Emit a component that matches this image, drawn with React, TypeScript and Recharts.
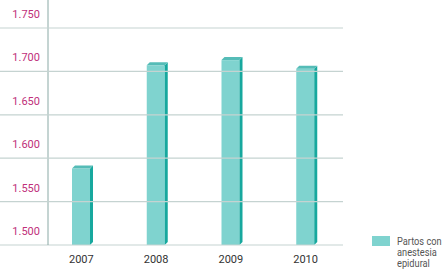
import { BarChart, Bar, XAxis, YAxis } from 'recharts'

const years = ['2007', '2008', '2009', '2010']
const partosEpidural = [1588, 1707, 1713, 1703]
const yTicks = [1500, 1550, 1600, 1650, 1700, 1750]

const data = years.map((year, i) => ({ year, value: partosEpidural[i] }))

const FONT = '"Liberation Sans Narrow", "Roboto", "Liberation Sans", sans-serif'
const GRID_RIGHT = 343
const AXIS_X = 48
const DEPTH = 3

const fmt = (v: number) => v.toLocaleString('de-DE', { minimumFractionDigits: 0 })

function YTick(props: any) {
  const { y, payload } = props
  return (
    <g>
      <line x1={0} y1={y} x2={GRID_RIGHT} y2={y} stroke="#c5d3d1" strokeWidth={1.2} />
      {payload.value === yTicks[0] && (
        <line x1={AXIS_X} y1={0} x2={AXIS_X} y2={y} stroke="#8aa9a5" strokeWidth={1} />
      )}
      <text x={40} y={y - 14} dy={4} textAnchor="end" fill="#c0307a" fontSize={11} fontFamily={FONT}>
        {fmt(payload.value)}
      </text>
    </g>
  )
}

function Bar3D(props: any) {
  const { x, y, width, height } = props
  if (!height) return null
  const b = y + height
  return (
    <g>
      <rect x={x} y={y} width={width} height={height} fill="#7fd3cf" />
      <polygon
        points={`${x + width},${y} ${x + width + DEPTH},${y - DEPTH} ${x + width + DEPTH},${b - DEPTH} ${x + width},${b}`}
        fill="#17a89e"
      />
      <polygon
        points={`${x},${y} ${x + DEPTH},${y - DEPTH} ${x + width + DEPTH},${y - DEPTH} ${x + width},${y}`}
        fill="#55bcb7"
      />
    </g>
  )
}

export default function App() {
  return (
    <div style={{ position: 'absolute', left: 0, top: 0, width: 446, height: 271 }}>
      <BarChart
        width={446}
        height={271}
        data={data}
        margin={{ top: 28, right: 103, left: 0, bottom: 0 }}
      >
        <XAxis
          dataKey="year"
          height={26}
          axisLine={false}
          tickLine={false}
          tick={{ fill: '#333', fontSize: 11, fontFamily: FONT }}
          dy={2}
        />
        <YAxis
          width={44}
          domain={[1500, 1750]}
          ticks={yTicks}
          axisLine={false}
          tickLine={false}
          tick={<YTick />}
          allowDataOverflow
        />
        <Bar dataKey="value" barSize={18} shape={<Bar3D />} isAnimationActive={false} />
      </BarChart>
      <div
        style={{
          position: 'absolute',
          left: 372,
          top: 236,
          display: 'flex',
          alignItems: 'flex-start',
          fontFamily: FONT,
          fontSize: 11,
          lineHeight: '11px',
          color: '#555',
          whiteSpace: 'nowrap',
        }}
      >
        <div style={{ width: 18, height: 10, background: '#7fd3cf', marginRight: 7, flexShrink: 0 }} />
        <div style={{ transform: 'scaleX(0.84)', transformOrigin: 'left top' }}>
          Partos con
          <br />
          anestesia
          <br />
          epidural
        </div>
      </div>
    </div>
  )
}
